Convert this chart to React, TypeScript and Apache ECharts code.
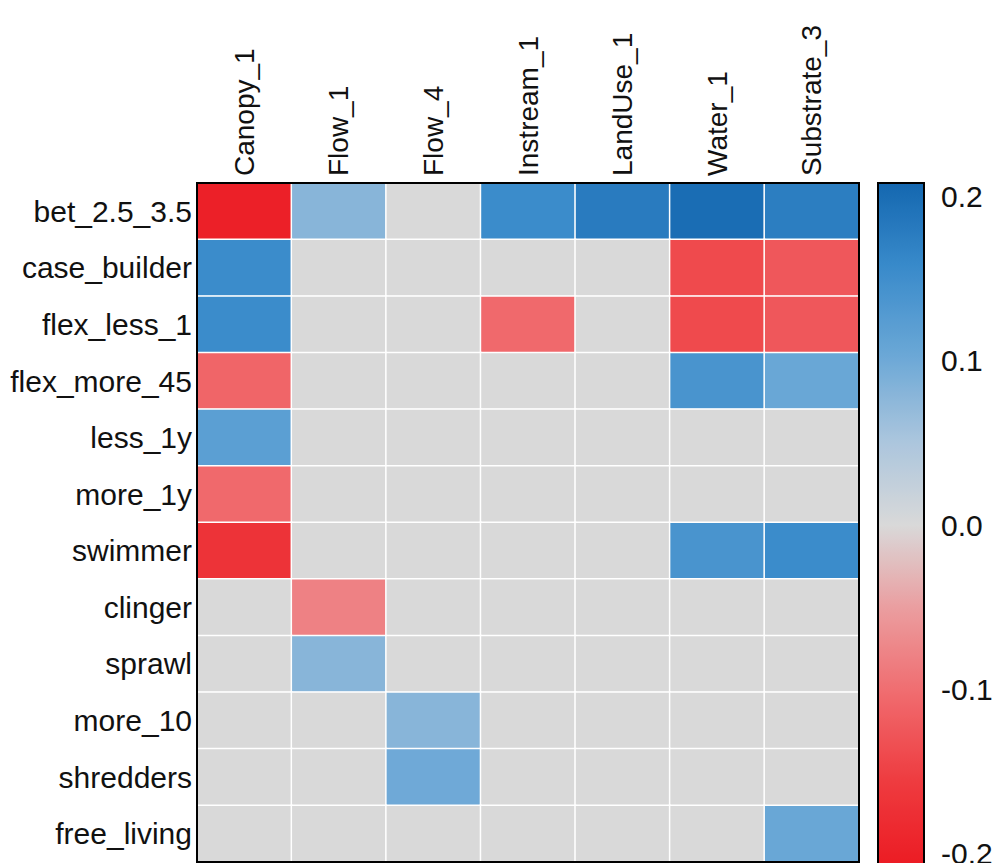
import React, { useEffect, useRef } from "react";
import * as echarts from "echarts";

const colLabels = ["Canopy_1", "Flow_1", "Flow_4", "Instream_1", "LandUse_1", "Water_1", "Substrate_3"];
const rowLabels = [
  "bet_2.5_3.5", "case_builder", "flex_less_1", "flex_more_45", "less_1y", "more_1y",
  "swimmer", "clinger", "sprawl", "more_10", "shredders", "free_living",
];
// correlation values, one array per row (columns as colLabels)
const bet_2_5_3_5 = [-0.2, 0.08, 0, 0.155, 0.18, 0.2, 0.175];
const case_builder = [0.155, 0, 0, 0, 0, -0.14, -0.125];
const flex_less_1 = [0.155, 0, 0, -0.105, 0, -0.14, -0.125];
const flex_more_45 = [-0.11, 0, 0, 0, 0, 0.14, 0.105];
const less_1y = [0.12, 0, 0, 0, 0, 0, 0];
const more_1y = [-0.105, 0, 0, 0, 0, 0, 0];
const swimmer = [-0.17, 0, 0, 0, 0, 0.14, 0.155];
const clinger = [0, -0.08, 0, 0, 0, 0, 0];
const sprawl = [0, 0.08, 0, 0, 0, 0, 0];
const more_10 = [0, 0, 0.08, 0, 0, 0, 0];
const shredders = [0, 0, 0.1, 0, 0, 0, 0];
const free_living = [0, 0, 0, 0, 0, 0, 0.105];
const rows = [
  bet_2_5_3_5, case_builder, flex_less_1, flex_more_45, less_1y, more_1y,
  swimmer, clinger, sprawl, more_10, shredders, free_living,
];
const scaleTicks = [-0.2, -0.1, 0, 0.1, 0.2];
const scaleMin = -0.2085;
const scaleMax = 0.2085;
const palette = [
  "#ec1b23", "#ee3b3f", "#f06a6d", "#eb9c9e", "#d9d9d9",
  "#aac5dd", "#6aa7d6", "#3a8bcb", "#1467b0",
];

export default function App() {
  const ref = useRef<HTMLDivElement>(null);
  useEffect(() => {
    document.body.style.margin = "0";
    const chart = echarts.init(ref.current!, null, { renderer: "svg" });
    const data: [number, number, number][] = [];
    rows.forEach((r, yi) => r.forEach((v, xi) => data.push([xi, yi, v])));
    const font = "Liberation Sans, Arial, sans-serif";
    const barTop = 183;
    const barHeight = Math.round((scaleMax - scaleMin) * 1640);
    chart.setOption({
      animation: false,
      backgroundColor: "#ffffff",
      grid: [
        {
          left: 197, top: 183, width: 662, height: 679, outerBoundsMode: "none",
          show: true, borderColor: "#000", borderWidth: 2,
          backgroundColor: "transparent", z: 10,
        },
        {
          left: 878, top: barTop, width: 46, height: barHeight, outerBoundsMode: "none",
          show: true, borderColor: "#000", borderWidth: 2,
          backgroundColor: "transparent", z: 10,
        },
      ],
      xAxis: [
        {
          type: "category", gridIndex: 0, data: colLabels, position: "top",
          axisLine: { show: false }, axisTick: { show: false }, splitLine: { show: false },
          axisLabel: { rotate: -90, fontSize: 28, color: "#111", fontFamily: font, margin: 7 },
        },
        { type: "value", gridIndex: 1, show: false, min: 0, max: 1 },
      ],
      yAxis: [
        {
          type: "category", gridIndex: 0, data: rowLabels, inverse: true,
          axisLine: { show: false }, axisTick: { show: false }, splitLine: { show: false },
          axisLabel: { fontSize: 30, color: "#111", fontFamily: font, margin: 5 },
        },
        {
          type: "value", gridIndex: 1, position: "right", min: scaleMin, max: scaleMax,
          axisLine: { show: false }, splitLine: { show: false },
          axisTick: {
            show: true, length: 16, customValues: scaleTicks,
            lineStyle: { color: "#000", width: 2 },
          },
          axisLabel: {
            customValues: scaleTicks, fontSize: 30, color: "#111", fontFamily: font, margin: 17,
            formatter: (v: number) => v.toFixed(1),
          },
        },
      ],
      visualMap: {
        type: "continuous", min: scaleMin, max: scaleMax, calculable: false,
        seriesIndex: 0, orient: "vertical", left: 878, top: barTop,
        itemWidth: 46, itemHeight: barHeight, padding: 0, text: null,
        showLabel: false, inRange: { color: palette },
      },
      series: [
        {
          type: "heatmap", xAxisIndex: 0, yAxisIndex: 0, data,
          itemStyle: { borderColor: "#ffffff", borderWidth: 1.5 },
          emphasis: { disabled: true },
        },
      ],
    });
    return () => chart.dispose();
  }, []);
  return <div ref={ref} style={{ width: 1008, height: 863 }} />;
}
